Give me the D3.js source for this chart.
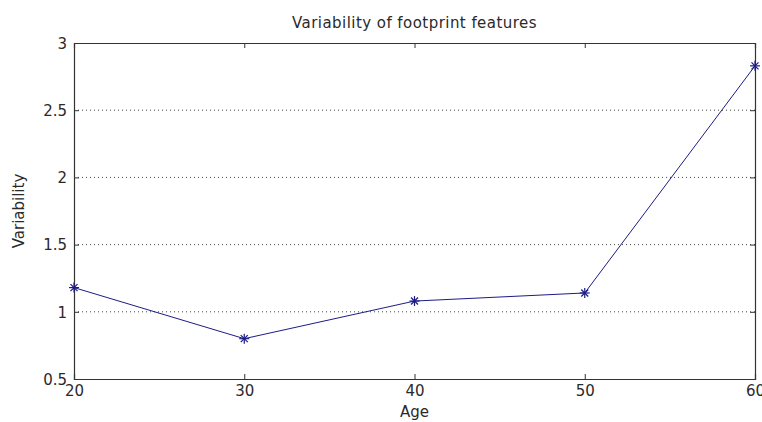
<!DOCTYPE html>
<html>
<head>
<meta charset="utf-8">
<script src="https://cdn.jsdelivr.net/npm/d3@7"></script>
<style>
  html, body { margin: 0; padding: 0; background: #fff; }
  svg { display: block; }
  text { font-family: "DejaVu Sans", Verdana, sans-serif; fill: #2a2a2a; }
</style>
</head>
<body>
<svg id="chart" width="762" height="422"></svg>
<script>
// Age groups and the variability measured for each
const ages = [20, 30, 40, 50, 60];
const variability = [1.18, 0.80, 1.08, 1.14, 2.83];
const xTicks = [20, 30, 40, 50, 60];
const yTicks = [0.5, 1, 1.5, 2, 2.5, 3];
const gridLevels = [1, 1.5, 2, 2.5];

(function () {
  const svg = d3.select("#chart");
  const margin = { left: 74, right: 7, top: 43, bottom: 43 };
  const W = 762, H = 422;
  const x = d3.scaleLinear().domain([20, 60]).range([margin.left, W - margin.right]);
  const y = d3.scaleLinear().domain([0.5, 3]).range([H - margin.bottom, margin.top]);

  const axisColor = "#333";
  const tickLen = 5;
  const font = "'DejaVu Sans', Verdana, sans-serif";

  // dotted horizontal grid
  svg.append("g").selectAll("line").data(gridLevels).join("line")
    .attr("x1", x(20)).attr("x2", x(60))
    .attr("y1", d => y(d)).attr("y2", d => y(d))
    .attr("stroke", "#444").attr("stroke-width", 1)
    .attr("stroke-dasharray", "1,3");

  // axes with inward ticks on all four sides
  const axBottom = svg.append("g").attr("transform", `translate(0,${y(0.5)})`)
    .call(d3.axisBottom(x).tickValues(xTicks).tickSize(-tickLen).tickPadding(9).tickFormat(d3.format("d")));
  const axTop = svg.append("g").attr("transform", `translate(0,${y(3)})`)
    .call(d3.axisTop(x).tickValues(xTicks).tickSize(-tickLen).tickFormat(""));
  const axLeft = svg.append("g").attr("transform", `translate(${x(20)},0)`)
    .call(d3.axisLeft(y).tickValues(yTicks).tickSize(-tickLen).tickPadding(7).tickFormat(d => String(d)));
  const axRight = svg.append("g").attr("transform", `translate(${x(60)},0)`)
    .call(d3.axisRight(y).tickValues(yTicks).tickSize(-tickLen).tickFormat(""));

  [axBottom, axTop, axLeft, axRight].forEach(g => {
    g.select(".domain").attr("stroke", axisColor).attr("stroke-width", 1.2);
    g.selectAll(".tick line").attr("stroke", axisColor);
    g.selectAll(".tick text").attr("font-size", 15).attr("fill", "#2a2a2a")
      .attr("font-family", font);
  });
  axBottom.selectAll(".tick text").attr("dy", "0.55em");
  axLeft.selectAll(".tick text").attr("dy", "0.35em");

  // data line
  const navy = "#1c1c86";
  const pts = ages.map((a, i) => [a, variability[i]]);
  svg.append("path").datum(pts)
    .attr("fill", "none").attr("stroke", navy).attr("stroke-width", 1)
    .attr("d", d3.line().x(d => x(d[0])).y(d => y(d[1])));

  // star markers
  const star = svg.append("g").selectAll("g").data(pts).join("g")
    .attr("transform", d => `translate(${x(d[0])},${y(d[1])})`);
  const r = 5;
  [[-r, 0, r, 0], [0, -r, 0, r], [-3.5, -3.5, 3.5, 3.5], [-3.5, 3.5, 3.5, -3.5]].forEach(s => {
    star.append("line").attr("x1", s[0]).attr("y1", s[1]).attr("x2", s[2]).attr("y2", s[3])
      .attr("stroke", navy).attr("stroke-width", 1.2);
  });

  // title and axis labels
  const cx = (x(20) + x(60)) / 2;
  svg.append("text").attr("x", cx).attr("y", 28)
    .attr("text-anchor", "middle").attr("font-size", 15).attr("letter-spacing", 0.45)
    .text("Variability of footprint features");
  svg.append("text").attr("x", cx).attr("y", 417)
    .attr("text-anchor", "middle").attr("font-size", 15).text("Age");
  svg.append("text").attr("transform", `translate(24,${(y(0.5) + y(3)) / 2}) rotate(-90)`)
    .attr("text-anchor", "middle").attr("font-size", 15).text("Variability");
})();
</script>
</body>
</html>
